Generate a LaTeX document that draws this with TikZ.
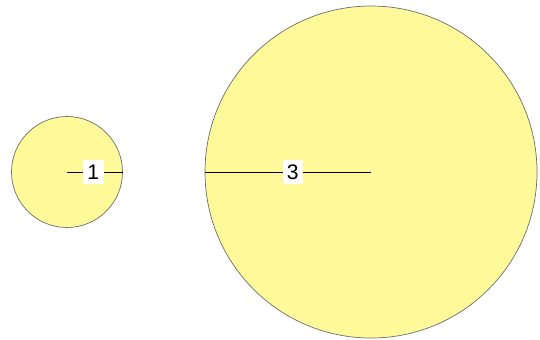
\documentclass[tikz,border=0pt]{standalone}
\usepackage{fontspec}
\setmainfont{Liberation Sans}
\definecolor{disc}{RGB}{255,250,153}
\definecolor{rim}{RGB}{110,110,110}

\begin{document}
\begin{tikzpicture}[x=0.02cm, y=-0.02cm, every node/.style={font=\large}, disc/.style={draw=rim, circle, fill=disc, inner sep=0pt}, lbl/.style={fill=white, inner sep=2.5pt}]
	\useasboundingbox (0,0) rectangle (540,339);
	\node[disc, minimum size=111*0.02cm] (C1) at (67,172) {};
	\node[disc, minimum size=332*0.02cm] (C3) at (371,172) {};
	\draw (C1.center) -- (C1.east) node[lbl, pos=0.47] {1};
	\draw (C3.center) -- (C3.west) node[lbl, pos=0.47] {3};
\end{tikzpicture}
\end{document}
